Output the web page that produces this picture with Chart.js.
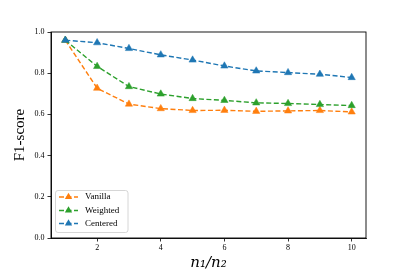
<!DOCTYPE html>
<html><head><meta charset="utf-8">
<script src="https://cdn.jsdelivr.net/npm/chart.js@4/dist/chart.umd.min.js"></script>
<style>html,body{margin:0;padding:0;background:#fff;}#wrap{width:407px;height:271px;position:relative;}</style>
</head><body><div id="wrap"><canvas id="c" width="407" height="271"></canvas></div>
<script>
const ratios = [1, 2, 3, 4, 5, 6, 7, 8, 9, 10];
const vanilla = [0.960, 0.727, 0.650, 0.628, 0.619, 0.620, 0.615, 0.617, 0.619, 0.612];
const weighted = [0.960, 0.833, 0.735, 0.699, 0.677, 0.668, 0.656, 0.653, 0.648, 0.643];
const centered = [0.960, 0.948, 0.920, 0.889, 0.864, 0.835, 0.811, 0.803, 0.795, 0.779];
const xTicks = [2, 4, 6, 8, 10];
const yTicks = [0.0, 0.2, 0.4, 0.6, 0.8, 1.0];
const seriesNames = ['Vanilla', 'Weighted', 'Centered'];
const colors = ['#ff7f0e', '#2ca02c', '#1f77b4'];
const serif = "'Liberation Serif', 'DejaVu Serif', serif";

function mk(i, vals, order) {
  return {
    label: seriesNames[i],
    data: ratios.map((x, k) => ({x: x, y: vals[k]})),
    borderColor: colors[i], backgroundColor: colors[i],
    borderWidth: 1.4, borderDash: [5, 2.5],
    pointStyle: 'triangle', pointRadius: 4.2, pointBorderWidth: 0.5,
    pointBorderColor: colors[i], order: order, tension: 0
  };
}

const framePlugin = {
  id: 'frame',
  afterDatasetsDraw(chart) {
    const ctx = chart.ctx, a = chart.chartArea;
    ctx.save();
    ctx.strokeStyle = '#000'; ctx.lineWidth = 0.9;
    ctx.strokeRect(a.left, a.top, a.right - a.left, a.bottom - a.top);
    // legend
    const bx = 55.5, by = 190.5, bw = 72.5, bh = 42, r = 2.5;
    ctx.fillStyle = 'rgba(255,255,255,0.8)';
    ctx.strokeStyle = '#cccccc'; ctx.lineWidth = 0.8;
    ctx.beginPath();
    ctx.moveTo(bx + r, by); ctx.lineTo(bx + bw - r, by); ctx.arcTo(bx + bw, by, bx + bw, by + r, r);
    ctx.lineTo(bx + bw, by + bh - r); ctx.arcTo(bx + bw, by + bh, bx + bw - r, by + bh, r);
    ctx.lineTo(bx + r, by + bh); ctx.arcTo(bx, by + bh, bx, by + bh - r, r);
    ctx.lineTo(bx, by + r); ctx.arcTo(bx, by, bx + r, by, r);
    ctx.closePath(); ctx.fill(); ctx.stroke();
    const ys = [197, 210.5, 223.5];
    for (let i = 0; i < 3; i++) {
      const y = ys[i];
      ctx.strokeStyle = colors[i]; ctx.lineWidth = 1.4; ctx.setLineDash([5, 2.5]);
      ctx.beginPath(); ctx.moveTo(59, y); ctx.lineTo(78, y); ctx.stroke();
      ctx.setLineDash([]);
      ctx.fillStyle = colors[i];
      const rr = 4.2;
      ctx.beginPath();
      ctx.moveTo(68.5, y - rr); ctx.lineTo(68.5 + rr * 0.866, y + rr * 0.5); ctx.lineTo(68.5 - rr * 0.866, y + rr * 0.5);
      ctx.closePath(); ctx.fill();
      ctx.fillStyle = '#000'; ctx.font = "9px " + serif;
      ctx.textBaseline = 'middle'; ctx.textAlign = 'left';
      ctx.fillText(seriesNames[i], 85, y);
    }
    ctx.restore();
  }
};

new Chart(document.getElementById('c'), {
  type: 'line',
  data: { datasets: [mk(0, vanilla, 3), mk(1, weighted, 2), mk(2, centered, 1)] },
  options: {
    responsive: false, animation: false, devicePixelRatio: 1,
    layout: { padding: { left: 0, right: 41, top: 32, bottom: 0 } },
    plugins: { legend: { display: false }, tooltip: { enabled: false } },
    scales: {
      x: {
        type: 'linear', min: 0.55, max: 10.45,
        afterBuildTicks: s => { s.ticks = xTicks.map(v => ({value: v})); },
        afterFit: s => { s.height = 33; },
        grid: { drawOnChartArea: false, drawTicks: true, tickLength: 3.5, color: '#000', lineWidth: 0.8 },
        border: { display: true, color: '#000', width: 0.9 },
        ticks: { color: '#000', font: { family: serif, size: 8 }, padding: 2, maxRotation: 0,
                 callback: v => String(v) },
        title: { display: true, text: 'n₁/n₂', color: '#000',
                 font: { family: "'DejaVu Serif', serif", size: 15, style: 'italic', lineHeight: 1 },
                 padding: { top: 0, bottom: 0 } }
      },
      y: {
        type: 'linear', min: 0, max: 1,
        afterBuildTicks: s => { s.ticks = yTicks.map(v => ({value: v})); },
        afterFit: s => { s.width = 51; },
        grid: { drawOnChartArea: false, drawTicks: true, tickLength: 3.5, color: '#000', lineWidth: 0.8 },
        border: { display: true, color: '#000', width: 0.9 },
        ticks: { color: '#000', font: { family: serif, size: 8 }, padding: 3,
                 callback: v => Number(v).toFixed(1) },
        title: { display: true, text: 'F1-score', color: '#000',
                 font: { family: serif, size: 15, lineHeight: 1.2 },
                 padding: { top: 11, bottom: 0 } }
      }
    }
  },
  plugins: [framePlugin]
});
</script></body></html>
